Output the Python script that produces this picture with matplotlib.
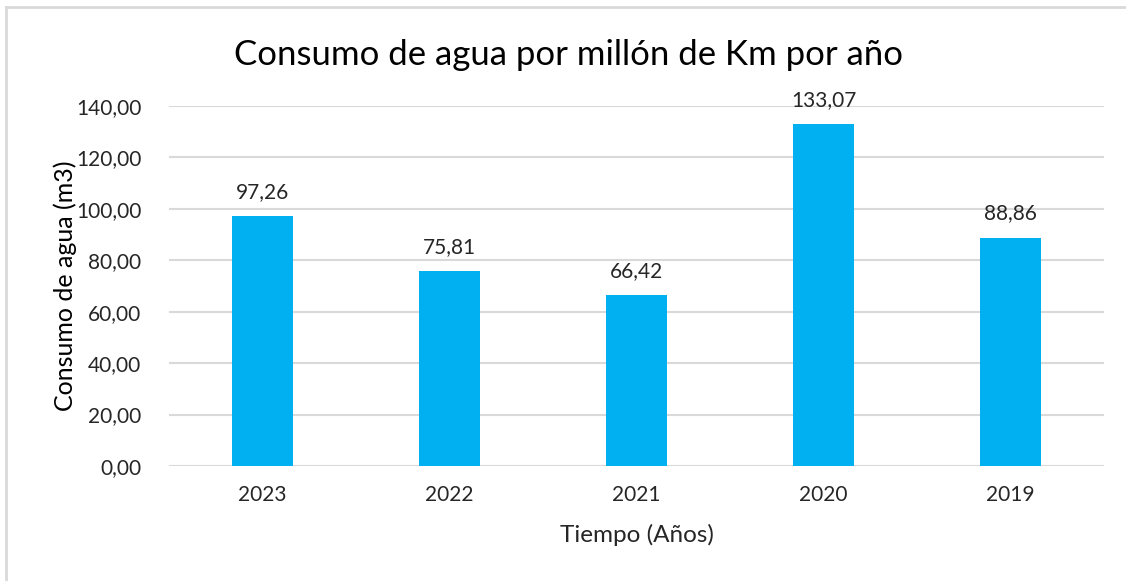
import matplotlib.pyplot as plt
from matplotlib.lines import Line2D

years = ['2023', '2022', '2021', '2020', '2019']
consumo = [97.26, 75.81, 66.42, 133.07, 88.86]
yticks = [0, 20, 40, 60, 80, 100, 120, 140]

plt.rcParams['font.family'] = ['Lato', 'DejaVu Sans']

fig = plt.figure(figsize=(11.26, 5.81), dpi=100)
# plot area in pixel terms: x 169..1104, y 106..466
ax = fig.add_axes([169 / 1126, 1 - 466 / 581, (1104 - 169) / 1126, (466 - 106) / 581])

x = range(len(years))
bars = ax.bar(x, consumo, width=0.326, color='#00B0F0', zorder=3)
ax.set_xlim(-0.5, len(years) - 0.5)
ax.set_ylim(0, 140)
ax.set_yticks(yticks)
ax.set_yticklabels([f'{v:.2f}'.replace('.', ',') for v in yticks])
ax.set_xticks(list(x))
ax.set_xticklabels(years)

ax.grid(axis='y', color='#d9d9d9', linewidth=1.5, zorder=0)
for s in ax.spines.values():
    s.set_visible(False)
ax.tick_params(length=0, labelsize=15, colors='#262626', pad=20)
ax.tick_params(axis='x', pad=14)

for b, v in zip(bars, consumo):
    ax.text(b.get_x() + b.get_width() / 2, v + 5.5, f'{v:.2f}'.replace('.', ','),
            ha='center', va='bottom', fontsize=15, color='#262626')

ax.set_ylabel('Consumo de agua (m3)', fontsize=18, color='#000000', labelpad=-1)
ax.set_xlabel('Tiempo (Años)', fontsize=17.5, color='#262626', labelpad=13)
fig.text(569 / 1126, 1 - 55 / 581, 'Consumo de agua por millón de Km por año',
         ha='center', va='center', fontsize=25, color='#000000')

# chart frame (only top and left edges visible)
fig.add_artist(Line2D([6 / 1126, 6 / 1126], [0, 1 - 7 / 581], transform=fig.transFigure,
                      color='#d9d9d9', linewidth=2))
fig.add_artist(Line2D([6 / 1126, 1], [1 - 7 / 581, 1 - 7 / 581], transform=fig.transFigure,
                      color='#d9d9d9', linewidth=2))

fig.savefig('out.png', dpi=100, facecolor='white')
